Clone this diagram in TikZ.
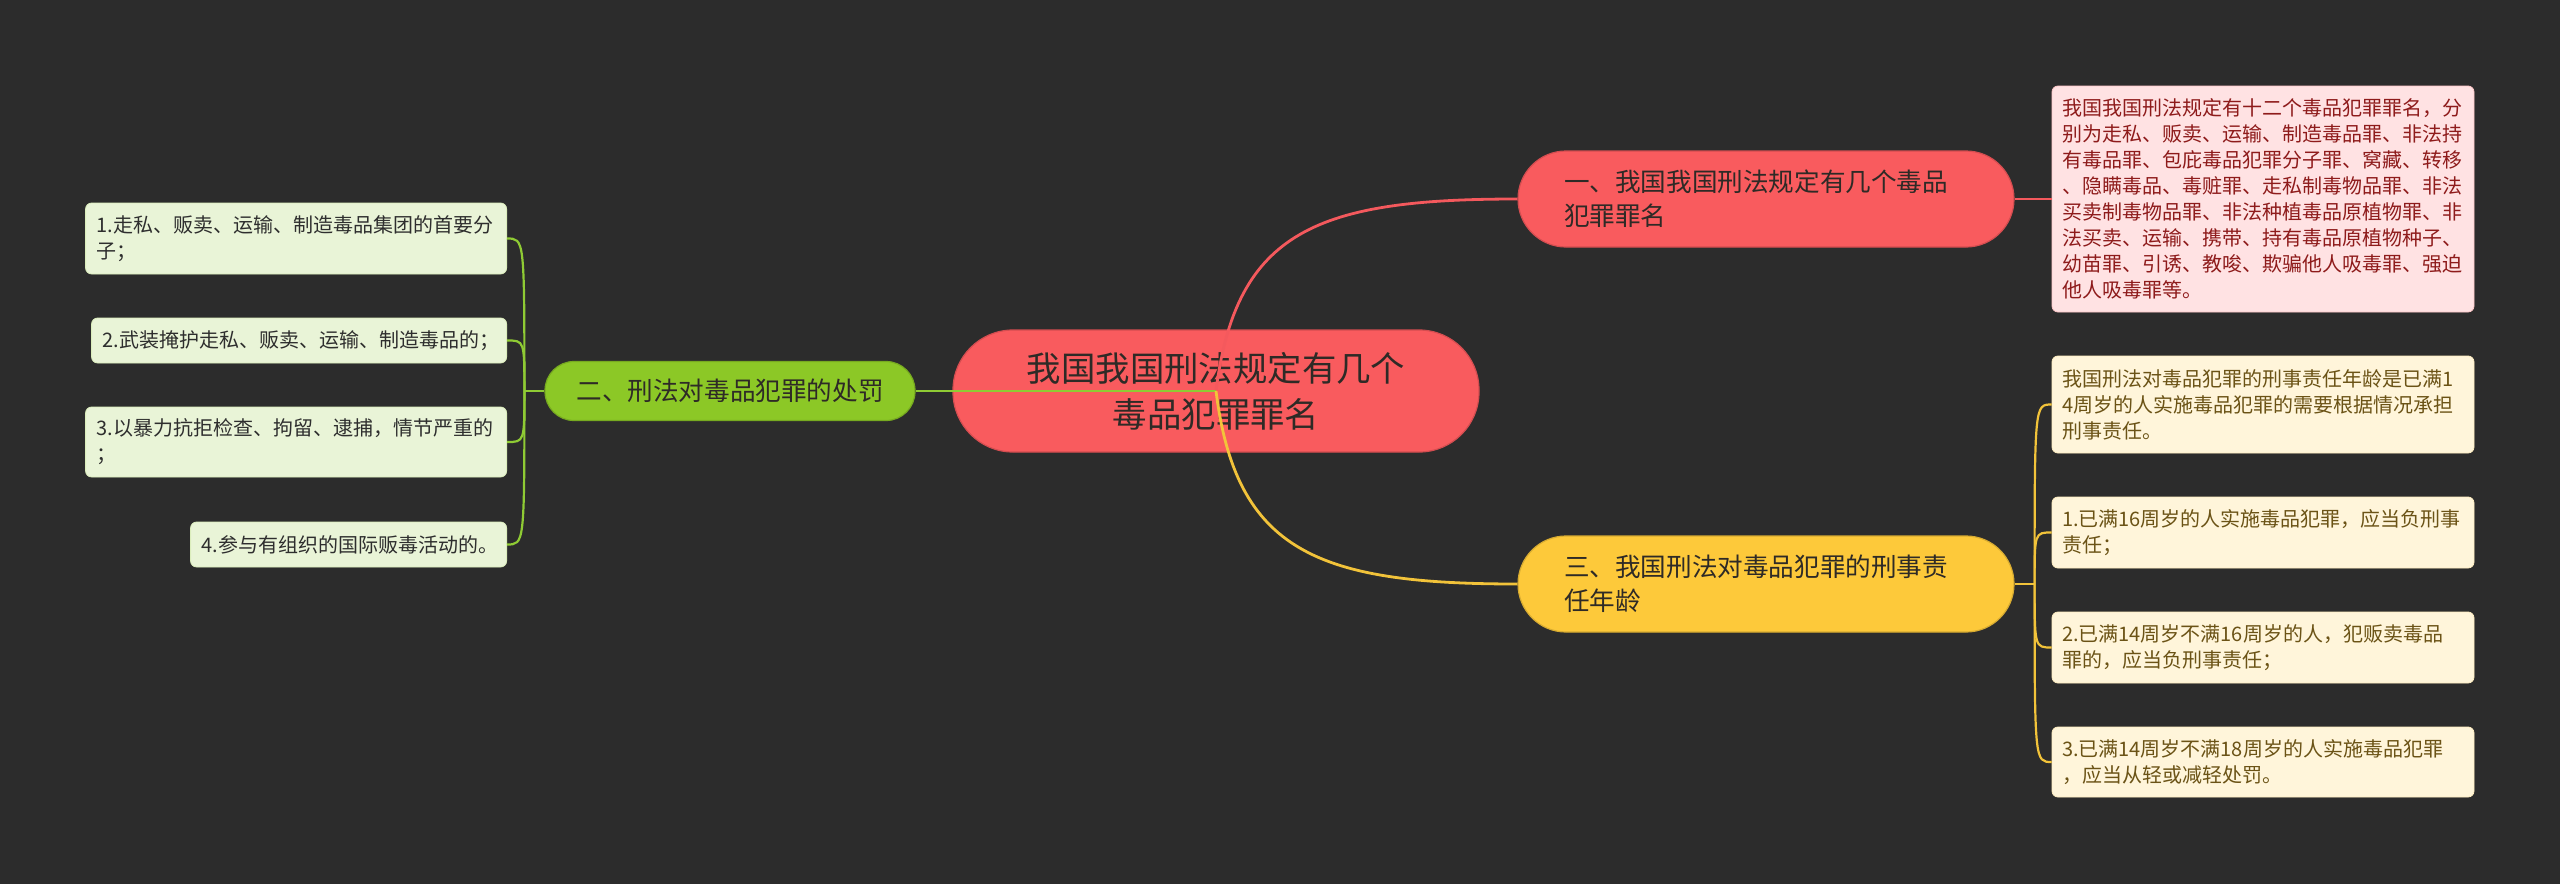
\documentclass[tikz,border=0pt]{standalone}
\usepackage{fontspec}
\setmainfont{Noto Sans CJK SC}
\usepackage{xcolor}
\usepackage{tikz}
\usetikzlibrary{positioning, calc}
\definecolor{bgdark}{HTML}{2C2C2C}
\definecolor{mapred}{HTML}{F95B5E}
\definecolor{mapredline}{HTML}{F4595D}
\definecolor{mapgreen}{HTML}{8CC826}
\definecolor{mapgreenline}{HTML}{8FCB34}
\definecolor{mapyellow}{HTML}{FDC93A}
\definecolor{mapyellowline}{HTML}{F2C33A}
\definecolor{notered}{HTML}{FFE2E3}
\definecolor{notegreen}{HTML}{E9F4D7}
\definecolor{noteyellow}{HTML}{FFF5DA}
\definecolor{darktext}{HTML}{2E2A26}
\tikzset{
  central/.style={rectangle, rounded corners=30pt, minimum width=263pt, minimum height=61pt, align=center, fill=mapred, draw=mapred!85!black, line width=0.6pt, text=darktext, font=\fontsize{17.2pt}{23pt}\selectfont},
  topic/.style={rectangle, rounded corners=24pt, minimum height=48pt, inner xsep=23pt, text width=202pt, align=left, text=darktext, line width=0.6pt, font=\fontsize{12.8pt}{17pt}\selectfont},
  topicred/.style={topic, fill=mapred, draw=mapred!85!black},
  topicyellow/.style={topic, fill=mapyellow, draw=mapyellow!85!black},
  topicgreen/.style={rectangle, rounded corners=14.5pt, minimum width=185pt, minimum height=29.5pt, align=center, fill=mapgreen, draw=mapgreen!85!black, line width=0.6pt, text=darktext, font=\fontsize{12.8pt}{17pt}\selectfont},
  note/.style={rectangle, rounded corners=3pt, inner xsep=5pt, inner ysep=2pt, align=left, line width=0.4pt, font=\fontsize{10pt}{13pt}\selectfont},
  notered/.style={note, text width=201pt, fill=notered, draw=notered!80!mapred, text=HTML8E1B1B},
  noteyellow/.style={note, text width=201pt, fill=noteyellow, draw=noteyellow!85!mapyellow, text=HTML6B5316},
  notegreen/.style={note, anchor=east, inner xsep=5.5pt, fill=notegreen, draw=notegreen!85!mapgreen, text=HTML2E2E2E},
  link/.style={line width=1.4pt},
  sublink/.style={line width=1.1pt}
}
\definecolor{HTML8E1B1B}{HTML}{8E1B1B}
\definecolor{HTML6B5316}{HTML}{6B5316}
\definecolor{HTML2E2E2E}{HTML}{2E2E2E}

\begin{document}
\begin{tikzpicture}[x=0.5pt, y=-0.5pt]
\useasboundingbox (0,0) rectangle (2560,884);
\fill[bgdark] (0,0) rectangle (2560,884);

\node[central] (root) at (1216,391) {我国我国刑法规定有几个\\毒品犯罪罪名};

\node[topicred] (t1) at (1766,199) {一、我国我国刑法规定有几个毒品\\犯罪罪名};
\node[topicgreen] (t2) at (730,391) {二、刑法对毒品犯罪的处罚};
\node[topicyellow] (t3) at (1766,584) {三、我国刑法对毒品犯罪的刑事责\\任年龄};

\node[notered, minimum height=113pt] (r1) at (2263,199) {我国我国刑法规定有十二个毒品犯罪罪名，分\\别为走私、贩卖、运输、制造毒品罪、非法持\\有毒品罪、包庇毒品犯罪分子罪、窝藏、转移\\、隐瞒毒品、毒赃罪、走私制毒物品罪、非法\\买卖制毒物品罪、非法种植毒品原植物罪、非\\法买卖、运输、携带、持有毒品原植物种子、\\幼苗罪、引诱、教唆、欺骗他人吸毒罪、强迫\\他人吸毒罪等。};

\node[notegreen, text width=199.5pt, minimum height=35.5pt] (g1) at (507,238.5) {1.走私、贩卖、运输、制造毒品集团的首要分\\子；};
\node[notegreen, text width=196.5pt, minimum height=22.5pt] (g2) at (507,340.5) {2.武装掩护走私、贩卖、运输、制造毒品的；};
\node[notegreen, text width=199.5pt, minimum height=35pt] (g3) at (507,442) {3.以暴力抗拒检查、拘留、逮捕，情节严重的\\；};
\node[notegreen, text width=147pt, minimum height=22.5pt] (g4) at (507,544.5) {4.参与有组织的国际贩毒活动的。};

\node[noteyellow, minimum height=48.5pt] (y1) at (2263,404.5) {我国刑法对毒品犯罪的刑事责任年龄是已满1\\4周岁的人实施毒品犯罪的需要根据情况承担\\刑事责任。};
\node[noteyellow, minimum height=35.5pt] (y2) at (2263,532.5) {1.已满16周岁的人实施毒品犯罪，应当负刑事\\责任；};
\node[noteyellow, minimum height=35.5pt] (y3) at (2263,647.5) {2.已满14周岁不满16周岁的人，犯贩卖毒品\\罪的，应当负刑事责任；};
\node[noteyellow, minimum height=35pt] (y4) at (2263,762) {3.已满14周岁不满18周岁的人实施毒品犯罪\\，应当从轻或减轻处罚。};

\draw[link, mapredline] (root.center) .. controls +(20,-161) and +(-199,0) .. (t1.west);
\draw[link, mapgreenline] (root.center) -- (t2.east);
\draw[link, mapyellowline] (root.center) .. controls +(20,161) and +(-199,0) .. (t3.west);

\draw[sublink, mapredline] (t1.east) -- (r1.west);

\draw[sublink, mapgreenline] (t2.west) -- ++(-20,0) coordinate (gj);
\foreach \g in {g1,g2,g3,g4}
  \draw[sublink, mapgreenline] (gj) .. controls (gj|-\g.east) and (gj|-\g.east) .. (\g.east);

\draw[sublink, mapyellowline] (t3.east) -- ++(20,0) coordinate (yj);
\foreach \y in {y1,y2,y3,y4}
  \draw[sublink, mapyellowline] (yj) .. controls (yj|-\y.west) and (yj|-\y.west) .. (\y.west);
\end{tikzpicture}
\end{document}
